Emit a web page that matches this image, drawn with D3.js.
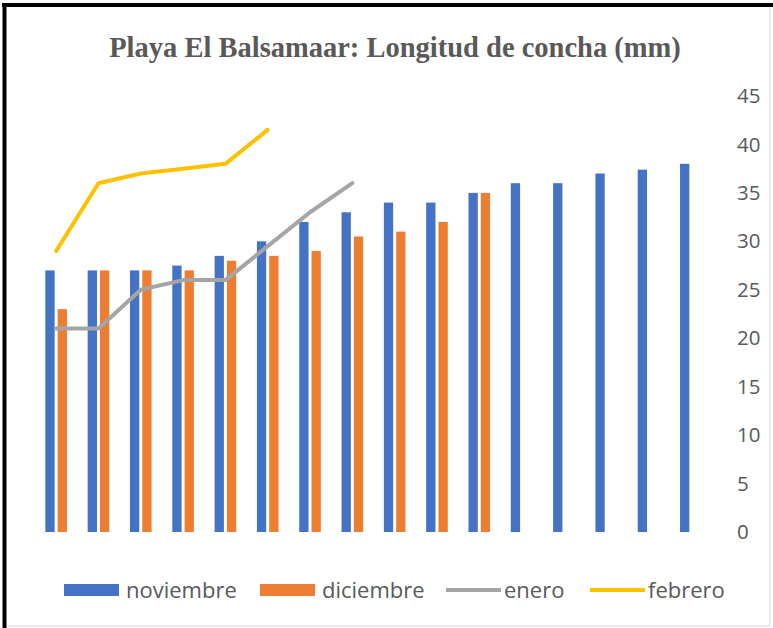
<!DOCTYPE html>
<html>
<head>
<meta charset="utf-8">
<script src="https://cdn.jsdelivr.net/npm/d3@7/dist/d3.min.js"></script>
<style>
  html, body { margin: 0; padding: 0; background: #fff; }
  svg { display: block; }
</style>
</head>
<body>
<script>
// ---- data ----
const categories = ["1","2","3","4","5","6","7","8","9","10","11","12","13","14","15","16"];
const noviembre = [27, 27, 27, 27.5, 28.5, 30, 32, 33, 34, 34, 35, 36, 36, 37, 37.4, 38];
const diciembre = [23, 27, 27, 27, 28, 28.5, 29, 30.5, 31, 32, 35];
const enero     = [21, 21, 25, 26, 26, 29.5, 33, 36];
const febrero   = [29, 36, 37, 37.5, 38, 41.5];
const yTicks    = [0, 5, 10, 15, 20, 25, 30, 35, 40, 45];
const seriesNames = ["noviembre", "diciembre", "enero", "febrero"];
const colors = { noviembre: "#4472C4", diciembre: "#ED7D31", enero: "#A5A5A5", febrero: "#FFC000" };

const W = 773, H = 628;
const svg = d3.select("body").append("svg").attr("width", W).attr("height", H);

// frame
svg.append("rect").attr("x", 0).attr("y", 0).attr("width", W).attr("height", H).attr("fill", "#fff");
svg.append("line").attr("x1", 770).attr("x2", 770).attr("y1", 5).attr("y2", 626).attr("stroke", "#d9d9d9").attr("stroke-width", 1);
svg.append("line").attr("x1", 5).attr("x2", 770).attr("y1", 626).attr("y2", 626).attr("stroke", "#d9d9d9").attr("stroke-width", 1);
svg.append("line").attr("x1", 2).attr("x2", 773).attr("y1", 5).attr("y2", 5).attr("stroke", "#000").attr("stroke-width", 4);
svg.append("line").attr("x1", 4.5).attr("x2", 4.5).attr("y1", 3).attr("y2", 628).attr("stroke", "#000").attr("stroke-width", 4);

// title
svg.append("text")
  .attr("x", 395).attr("y", 57)
  .attr("text-anchor", "middle")
  .attr("font-family", "'Liberation Serif', 'Times New Roman', serif")
  .attr("font-weight", "bold")
  .attr("font-size", 28.5)
  .attr("fill", "#595959")
  .text("Playa El Balsamaar: Longitud de concha (mm)");

// scales
const x0 = d3.scaleBand().domain(categories).range([35, 712]).padding(0);
const y = d3.scaleLinear().domain([0, 45]).range([532, 96]);
const groupW = 21.6;
const x1 = d3.scaleBand().domain(["noviembre", "diciembre"]).range([0, groupW]).paddingInner(0.244).paddingOuter(0);
const groupX = c => x0(c) + x0.bandwidth() / 2 - groupW / 2;
const cx = c => x0(c) + x0.bandwidth() / 2;

// right axis
const axis = d3.axisRight(y).tickValues(yTicks).tickSize(0).tickPadding(0);
const gAxis = svg.append("g").attr("transform", "translate(737,0)").call(axis);
gAxis.select(".domain").remove();
gAxis.selectAll("text")
  .attr("font-family", "'Open Sans', 'Noto Sans', sans-serif")
  .attr("font-size", 20.5)
  .attr("fill", "#595959");

// bars
const barData = [
  { name: "noviembre", values: noviembre },
  { name: "diciembre", values: diciembre }
];
barData.forEach(s => {
  svg.append("g").selectAll("rect")
    .data(s.values.map((v, i) => ({ c: categories[i], v })))
    .join("rect")
    .attr("x", d => groupX(d.c) + x1(s.name))
    .attr("width", x1.bandwidth())
    .attr("y", d => y(d.v))
    .attr("height", d => y(0) - y(d.v))
    .attr("fill", colors[s.name]);
});

// lines
const line = d3.line().x(d => cx(d.c)).y(d => y(d.v));
[{ name: "enero", values: enero }, { name: "febrero", values: febrero }].forEach(s => {
  svg.append("path")
    .datum(s.values.map((v, i) => ({ c: categories[i], v })))
    .attr("d", line)
    .attr("fill", "none")
    .attr("stroke", colors[s.name])
    .attr("stroke-width", 4)
    .attr("stroke-linejoin", "round")
    .attr("stroke-linecap", "round");
});

// legend
const legendY = 590;
const legendX = [64, 260, 446, 590];
const lg = svg.append("g");
seriesNames.forEach((n, i) => {
  const g = lg.append("g").attr("transform", `translate(${legendX[i]},${legendY})`);
  if (i < 2) {
    g.append("rect").attr("x", 0).attr("y", -6).attr("width", 55).attr("height", 12).attr("fill", colors[n]);
  } else {
    g.append("line").attr("x1", 0).attr("x2", 55).attr("y1", 0).attr("y2", 0)
      .attr("stroke", colors[n]).attr("stroke-width", 4);
  }
  g.append("text").attr("x", i < 2 ? 62 : 58).attr("y", 0).attr("dy", "0.35em")
    .attr("font-family", "'Open Sans', 'Noto Sans', sans-serif")
    .attr("font-size", 22)
    .attr("fill", "#595959")
    .text(n);
});
</script>
</body>
</html>
